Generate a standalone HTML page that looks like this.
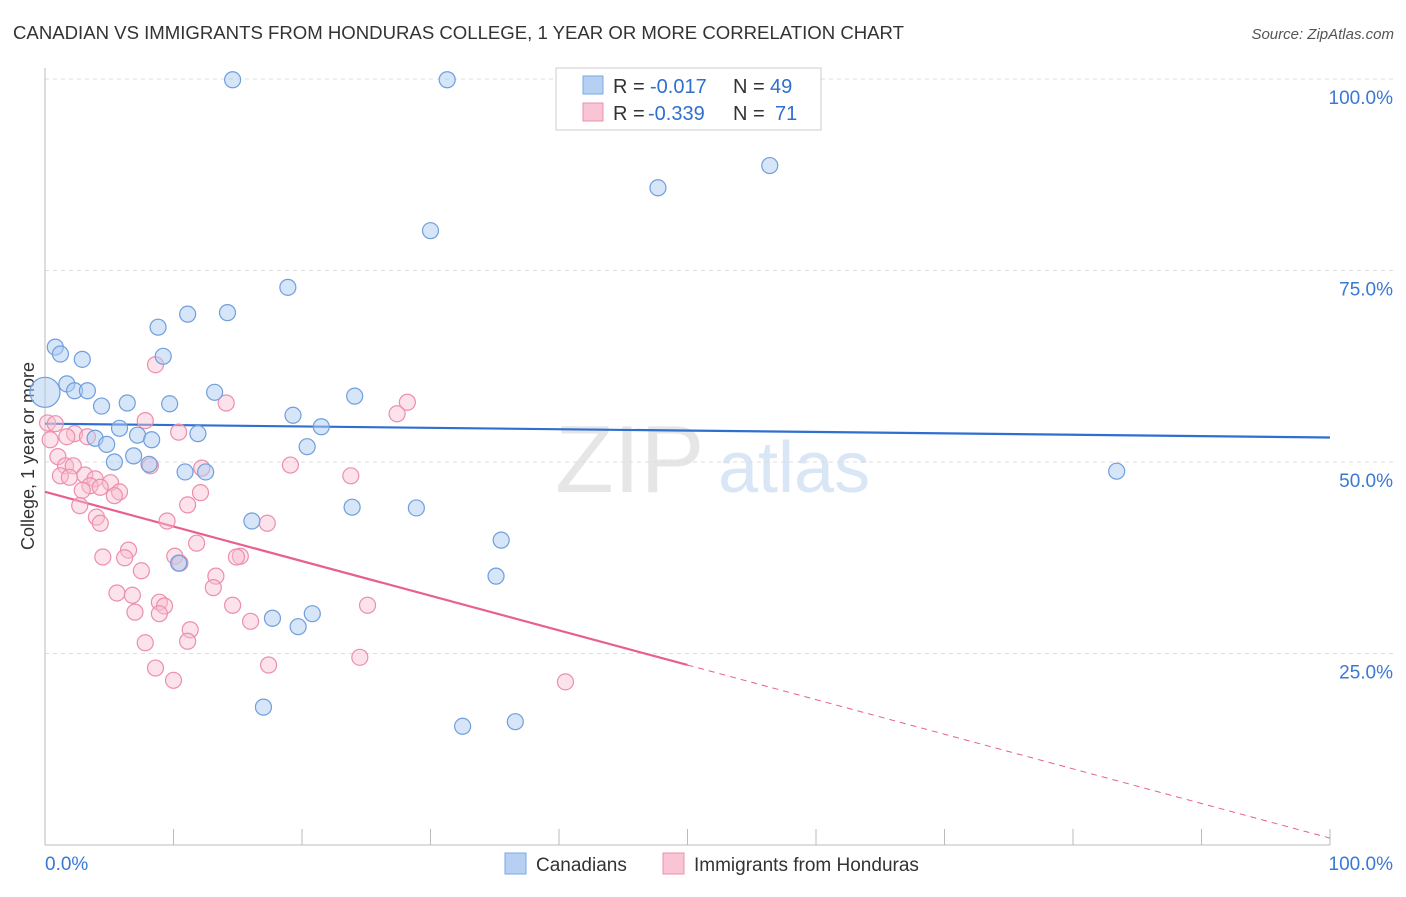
<!DOCTYPE html>
<html><head><meta charset="utf-8"><style>
body{margin:0;background:#fff;font-family:"Liberation Sans",sans-serif;}
svg text{font-family:"Liberation Sans",sans-serif;}
</style></head><body>
<svg id="chart" width="1406" height="892" xmlns="http://www.w3.org/2000/svg">
<text x="13" y="39" font-size="18.6" fill="#333" textLength="891">CANADIAN VS IMMIGRANTS FROM HONDURAS COLLEGE, 1 YEAR OR MORE CORRELATION CHART</text>
<text x="1394" y="39" font-size="15" fill="#555" text-anchor="end" font-style="italic">Source: ZipAtlas.com</text>
<text transform="translate(34,456) rotate(-90)" font-size="18" fill="#333" text-anchor="middle">College, 1 year or more</text>
<text x="555" y="492" font-size="96" fill="#e6e6e6" font-family="Liberation Serif">ZIP</text>
<text x="718" y="492" font-size="72" fill="#d8e6f5">atlas</text>
<g id="grid"></g><g id="axes"></g><g id="trend"></g><g id="pts"></g>
<g>
<rect x="556" y="68" width="265" height="62" fill="#fff" stroke="#ccc"/>
<rect x="583" y="76" width="20" height="18" fill="#b5d0f2" stroke="#7aaae0"/>
<text x="613" y="93" font-size="20" fill="#333">R =</text>
<text x="650" y="93" font-size="20" fill="#2e6fcf">-0.017</text>
<text x="733" y="93" font-size="20" fill="#333">N =</text>
<text x="770" y="93" font-size="20" fill="#2e6fcf">49</text>
<rect x="583" y="103" width="20" height="18" fill="#f9c4d4" stroke="#ec8fac"/>
<text x="613" y="120" font-size="20" fill="#333">R =</text>
<text x="648" y="120" font-size="20" fill="#2e6fcf">-0.339</text>
<text x="733" y="120" font-size="20" fill="#333">N =</text>
<text x="775" y="120" font-size="20" fill="#2e6fcf">71</text>
</g>
<g>
<rect x="505" y="853" width="21" height="21" fill="#b5d0f2" stroke="#7aaae0"/>
<text x="536" y="871" font-size="19" fill="#333">Canadians</text>
<rect x="663" y="853" width="21" height="21" fill="#f9c4d4" stroke="#ec8fac"/>
<text x="694" y="871" font-size="19" fill="#333">Immigrants from Honduras</text>
</g>
</svg>
<script>
const yTicks=[25,50,75,100];
const yTickLabels=["25.0%","50.0%","75.0%","100.0%"];
const blueX=[14.6,31.3,56.4,47.7,30.0,18.9,11.1,14.2,8.8,0.8,1.2,2.9,9.2,1.7,2.3,3.3,13.2,24.1,4.4,6.4,9.7,19.3,21.5,5.8,11.9,3.9,7.2,8.3,4.8,20.4,6.9,5.4,8.1,10.9,12.5,83.4,23.9,28.9,16.1,35.5,10.4,35.1,20.8,17.7,19.7,17.0,32.5,36.6,0];
const blueY=[99.9,99.9,88.7,85.8,80.2,72.8,69.3,69.5,67.6,65.0,64.1,63.4,63.8,60.2,59.3,59.3,59.1,58.6,57.3,57.7,57.6,56.1,54.6,54.4,53.7,53.1,53.5,52.9,52.3,52.0,50.8,50.0,49.7,48.7,48.7,48.8,44.1,44.0,42.3,39.8,36.8,35.1,30.2,29.6,28.5,18.0,15.5,16.1,59.1];
const pinkX=[8.6,0.2,0.8,7.8,2.3,1.7,3.3,10.4,14.1,28.2,27.4,0.4,1.0,1.6,2.2,8.2,12.2,19.1,23.8,1.2,1.9,3.1,3.9,5.1,3.5,4.3,5.8,5.4,2.9,12.1,2.7,11.1,4.0,4.3,9.5,17.3,11.8,6.5,4.5,6.2,10.1,15.2,10.5,14.9,7.5,13.3,13.1,5.6,6.8,8.9,9.3,14.6,25.1,7.0,8.9,16.0,11.3,11.1,7.8,17.4,8.6,10.0,24.5,40.5];
const pinkY=[62.7,55.1,55.0,55.4,53.7,53.3,53.3,53.9,57.7,57.8,56.3,52.9,50.7,49.5,49.5,49.5,49.2,49.6,48.2,48.2,48.0,48.3,47.8,47.3,46.9,46.7,46.1,45.6,46.3,46.0,44.3,44.4,42.8,42.0,42.3,42.0,39.4,38.5,37.6,37.5,37.7,37.7,36.8,37.6,35.8,35.1,33.6,32.9,32.6,31.7,31.2,31.3,31.3,30.4,30.2,29.2,28.1,26.6,26.4,23.5,23.1,21.5,24.5,21.3];
const blueTrend=[55.0,53.2];
const pinkTrend=[46.1,0.9];
const pinkSolidEnd=50;
const NS="http://www.w3.org/2000/svg";
const X=v=>45+v*12.85, Y=v=>845-v*7.66;
function mk(t,a,p){const e=document.createElementNS(NS,t);for(const k in a)e.setAttribute(k,a[k]);p.appendChild(e);return e;}
const grid=document.getElementById('grid'),axes=document.getElementById('axes'),trend=document.getElementById('trend'),pts=document.getElementById('pts');
yTicks.forEach((t,i)=>{
 const l=mk('line',{x1:45,x2:1394,y1:Y(t),y2:Y(t),stroke:'#ddd','stroke-dasharray':'4,4'},grid);
 
 
 const tx=mk('text',{x:1393,y:Y(t)+25,'font-size':19,fill:'#3a78d4','text-anchor':'end'},axes);
 tx.textContent=yTickLabels[i];
 
 
});
mk('line',{x1:45,x2:45,y1:68,y2:845,stroke:'#bbb'},axes);
mk('line',{x1:45,x2:1330,y1:845,y2:845,stroke:'#bbb'},axes);
for(let i=0;i<=10;i++){mk('line',{x1:X(i*10),x2:X(i*10),y1:829,y2:845,stroke:'#bbb'},axes);}
let t0=mk('text',{x:45,y:870,'font-size':19,fill:'#3a78d4'},axes);t0.textContent='0.0%';


let t1=mk('text',{x:1393,y:870,'font-size':19,fill:'#3a78d4','text-anchor':'end'},axes);t1.textContent='100.0%';


pinkX.forEach((x,i)=>{const c=mk('circle',{cx:X(x),cy:Y(pinkY[i]),r:8,fill:'rgba(249,190,208,0.45)',stroke:'#ec8fac','stroke-width':1.2},pts);
 
 });
blueX.forEach((x,i)=>{const c=mk('circle',{cx:X(x),cy:Y(blueY[i]),r:i==blueX.length-1?15:8,fill:'rgba(173,203,242,0.5)',stroke:'#6f9fdc','stroke-width':1.2},pts);
 
 });
const bt=mk('line',{x1:X(0),y1:Y(blueTrend[0]),x2:X(100),y2:Y(blueTrend[1]),stroke:'#2f6fd0','stroke-width':2.2},trend);


const pm=pinkTrend[0]+(pinkTrend[1]-pinkTrend[0])*pinkSolidEnd/100;
const pt=mk('line',{x1:X(0),y1:Y(pinkTrend[0]),x2:X(pinkSolidEnd),y2:Y(pm),stroke:'#e8608e','stroke-width':2.2},trend);


const pd=mk('line',{x1:X(pinkSolidEnd),y1:Y(pm),x2:X(100),y2:Y(pinkTrend[1]),stroke:'#e8608e','stroke-width':1,'stroke-dasharray':'6,5'},trend);


</script>
</body></html>
